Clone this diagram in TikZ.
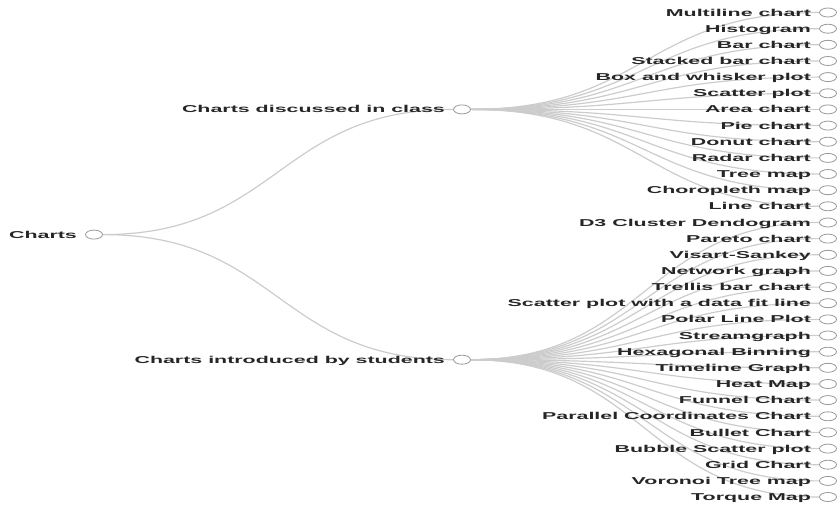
\documentclass[tikz,border=0pt]{standalone}
\usepackage{fontspec}
\newfontfamily\chartfont{Liberation Sans}[FakeStretch=2.14]
\usepackage{tikz}
\usetikzlibrary{shapes.geometric,positioning,calc,backgrounds}

\begin{document}
\begin{tikzpicture}[
    x=1pt, y=1pt,
    node distance=7pt,
    dot/.style={ellipse, draw=black!40, fill=white, line width=0.8pt, minimum width=17pt, minimum height=9pt, inner sep=0pt},
    txt/.style={font=\chartfont\bfseries\fontsize{10}{12}\selectfont, text=black!85, inner sep=1pt, text height=7.2pt, text depth=0pt},
    link/.style={draw=black!20, line width=1.2pt,
        to path={.. controls ($(\tikztostart)!0.5!(\tikztotarget |- \tikztostart)$) and ($(\tikztostart |- \tikztotarget)!0.5!(\tikztotarget)$) .. (\tikztotarget)}}
]
    \useasboundingbox (0,0) rectangle (838,-510);

    % Root
    \node[dot] (root) at (94,-234.6) {};
    \node[txt, left=of root] (roott) {Charts};

    % Level 1
    \node[dot] (cls) at (462,-109.4) {};
    \node[txt, left=of cls] (clst) {Charts discussed in class};
    \node[dot] (stu) at (462,-359.7) {};
    \node[txt, left=of stu] (stut) {Charts introduced by students};

    % Charts discussed in class
    \node[dot] (c1) at (828,-12.5) {};   \node[txt, left=of c1] (c1t) {Multiline chart};
    \node[dot] (c2) at (828,-28.7) {};   \node[txt, left=of c2] (c2t) {Histogram};
    \node[dot] (c3) at (828,-44.8) {};   \node[txt, left=of c3] (c3t) {Bar chart};
    \node[dot] (c4) at (828,-61.0) {};   \node[txt, left=of c4] (c4t) {Stacked bar chart};
    \node[dot] (c5) at (828,-77.1) {};   \node[txt, left=of c5] (c5t) {Box and whisker plot};
    \node[dot] (c6) at (828,-93.3) {};   \node[txt, left=of c6] (c6t) {Scatter plot};
    \node[dot] (c7) at (828,-109.4) {};  \node[txt, left=of c7] (c7t) {Area chart};
    \node[dot] (c8) at (828,-125.6) {};  \node[txt, left=of c8] (c8t) {Pie chart};
    \node[dot] (c9) at (828,-141.7) {};  \node[txt, left=of c9] (c9t) {Donut chart};
    \node[dot] (c10) at (828,-157.9) {}; \node[txt, left=of c10] (c10t) {Radar chart};
    \node[dot] (c11) at (828,-174.0) {}; \node[txt, left=of c11] (c11t) {Tree map};
    \node[dot] (c12) at (828,-190.2) {}; \node[txt, left=of c12] (c12t) {Choropleth map};
    \node[dot] (c13) at (828,-206.3) {}; \node[txt, left=of c13] (c13t) {Line chart};

    % Charts introduced by students
    \node[dot] (s1) at (828,-222.5) {};  \node[txt, left=of s1] (s1t) {D3 Cluster Dendogram};
    \node[dot] (s2) at (828,-238.6) {};  \node[txt, left=of s2] (s2t) {Pareto chart\ };
    \node[dot] (s3) at (828,-254.8) {};  \node[txt, left=of s3] (s3t) {Visart-Sankey};
    \node[dot] (s4) at (828,-270.9) {};  \node[txt, left=of s4] (s4t) {Network graph};
    \node[dot] (s5) at (828,-287.1) {};  \node[txt, left=of s5] (s5t) {Trellis bar chart};
    \node[dot] (s6) at (828,-303.2) {};  \node[txt, left=of s6] (s6t) {Scatter plot with a data fit line};
    \node[dot] (s7) at (828,-319.4) {};  \node[txt, left=of s7] (s7t) {Polar Line Plot};
    \node[dot] (s8) at (828,-335.5) {};  \node[txt, left=of s8] (s8t) {Streamgraph};
    \node[dot] (s9) at (828,-351.7) {};  \node[txt, left=of s9] (s9t) {Hexagonal Binning};
    \node[dot] (s10) at (828,-367.8) {}; \node[txt, left=of s10] (s10t) {Timeline Graph};
    \node[dot] (s11) at (828,-384.0) {}; \node[txt, left=of s11] (s11t) {Heat Map};
    \node[dot] (s12) at (828,-400.1) {}; \node[txt, left=of s12] (s12t) {Funnel Chart};
    \node[dot] (s13) at (828,-416.3) {}; \node[txt, left=of s13] (s13t) {Parallel Coordinates Chart};
    \node[dot] (s14) at (828,-432.4) {}; \node[txt, left=of s14] (s14t) {Bullet Chart};
    \node[dot] (s15) at (828,-448.6) {}; \node[txt, left=of s15] (s15t) {Bubble Scatter plot};
    \node[dot] (s16) at (828,-464.7) {}; \node[txt, left=of s16] (s16t) {Grid Chart};
    \node[dot] (s17) at (828,-480.9) {}; \node[txt, left=of s17] (s17t) {Voronoi Tree map};
    \node[dot] (s18) at (828,-497.0) {}; \node[txt, left=of s18] (s18t) {Torque Map};

    % Edges
    \begin{scope}[on background layer]
    \draw[link] (root) to (cls);
    \draw[link] (root) to (stu);

    \draw[link] (cls) to (c1);
    \draw[link] (cls) to (c2);
    \draw[link] (cls) to (c3);
    \draw[link] (cls) to (c4);
    \draw[link] (cls) to (c5);
    \draw[link] (cls) to (c6);
    \draw[link] (cls) to (c7);
    \draw[link] (cls) to (c8);
    \draw[link] (cls) to (c9);
    \draw[link] (cls) to (c10);
    \draw[link] (cls) to (c11);
    \draw[link] (cls) to (c12);
    \draw[link] (cls) to (c13);

    \draw[link] (stu) to (s1);
    \draw[link] (stu) to (s2);
    \draw[link] (stu) to (s3);
    \draw[link] (stu) to (s4);
    \draw[link] (stu) to (s5);
    \draw[link] (stu) to (s6);
    \draw[link] (stu) to (s7);
    \draw[link] (stu) to (s8);
    \draw[link] (stu) to (s9);
    \draw[link] (stu) to (s10);
    \draw[link] (stu) to (s11);
    \draw[link] (stu) to (s12);
    \draw[link] (stu) to (s13);
    \draw[link] (stu) to (s14);
    \draw[link] (stu) to (s15);
    \draw[link] (stu) to (s16);
    \draw[link] (stu) to (s17);
    \draw[link] (stu) to (s18);
    \end{scope}

\end{tikzpicture}
\end{document}
